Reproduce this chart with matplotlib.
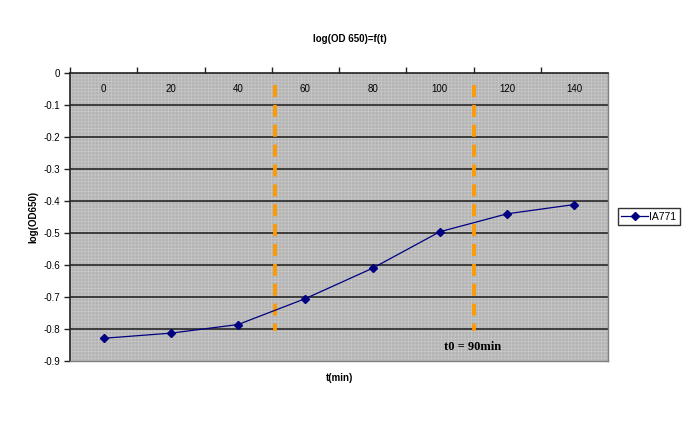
import matplotlib
matplotlib.use("Agg")
import matplotlib.pyplot as plt
import numpy as np

plt.rcParams['font.family'] = ['Liberation Sans', 'DejaVu Sans']
plt.rcParams['hatch.linewidth'] = 0.4

categories = ["0", "20", "40", "60", "80", "100", "120", "140"]
ia771 = [-0.829, -0.813, -0.786, -0.705, -0.610, -0.496, -0.440, -0.411]
y_ticks = [0, -0.1, -0.2, -0.3, -0.4, -0.5, -0.6, -0.7, -0.8, -0.9]
y_tick_labels = ["0", "-0.1", "-0.2", "-0.3", "-0.4", "-0.5", "-0.6", "-0.7", "-0.8", "-0.9"]
marker_times = [51, 110]   # orange dashed markers (minutes)

fig = plt.figure(figsize=(7, 4.36), dpi=100)
ax = fig.add_axes([70/700, 1-361/436, 538/700, 288/436])
ax.set_facecolor('#b4b4b4')
# fine grid background pattern
ax.add_patch(plt.Rectangle((0, 0), 1, 1, transform=ax.transAxes, facecolor='none',
                           edgecolor='#cdcdcd', hatch='+++++', linewidth=0, zorder=0))

x = np.arange(len(categories))
ax.set_xlim(-0.5, len(categories) - 0.5)
ax.set_ylim(-0.9, 0)

for yv in y_ticks[1:-1]:
    ax.axhline(yv, color='#333333', linewidth=1.3, zorder=1)

ax.set_yticks(y_ticks)
ax.set_yticklabels(y_tick_labels, fontsize=7)
ax.tick_params(axis='y', direction='out', length=4, width=1, pad=3, color='#222222')

ax.xaxis.set_ticks_position('top')
ax.set_xticks(np.arange(len(categories)) - 0.5)
ax.set_xticklabels([])
ax.tick_params(axis='x', direction='out', length=4, width=1, color='#222222')
for xi, lab in zip(x, categories):
    ax.text(xi, -0.05, lab, ha='center', va='center', fontsize=7, zorder=3)

for s in ['left', 'top']:
    ax.spines[s].set_color('#222222')
    ax.spines[s].set_linewidth(1.2)
for s in ['right', 'bottom']:
    ax.spines[s].set_color('#808080')
    ax.spines[s].set_linewidth(1.0)

ax.plot(x, ia771, color='#000080', linewidth=0.9, marker='D', markersize=4,
        markerfacecolor='#000080', markeredgecolor='#000080', label='IA771', zorder=4)

for t in marker_times:
    xp = t / 20.0
    ax.plot([xp, xp], [-0.037, -0.805], color='#FF9900', linewidth=2.7,
            linestyle=(0, (3.2, 2.1)), zorder=3, solid_capstyle='butt', dash_capstyle='butt')

ax.text(marker_times[1] / 20.0 - 0.02, -0.855, 't0 = 90min', fontsize=9, fontweight='bold',
        family=['Liberation Serif', 'DejaVu Serif'], ha='center', va='center', zorder=5)

fig.text(350/700, 1-39/436, 'log(OD 650)=f(t)', ha='center', va='center',
         fontsize=7, fontweight='bold')
fig.text(33/700, 1-217/436, 'log(OD650)', ha='center', va='center', rotation=90,
         fontsize=7, fontweight='bold')
fig.text(340/700, 1-378/436, 't(min)', ha='center', va='center', fontsize=7, fontweight='bold')

leg = fig.legend(loc='center left', bbox_to_anchor=(618/700, 1-216.5/436), fontsize=7.5,
                 frameon=True, fancybox=False, borderpad=0.3, handlelength=2.6,
                 handletextpad=0.1, borderaxespad=0)
leg.get_frame().set_edgecolor('black')
leg.get_frame().set_linewidth(1.0)

fig.savefig('out.png', dpi=100)
